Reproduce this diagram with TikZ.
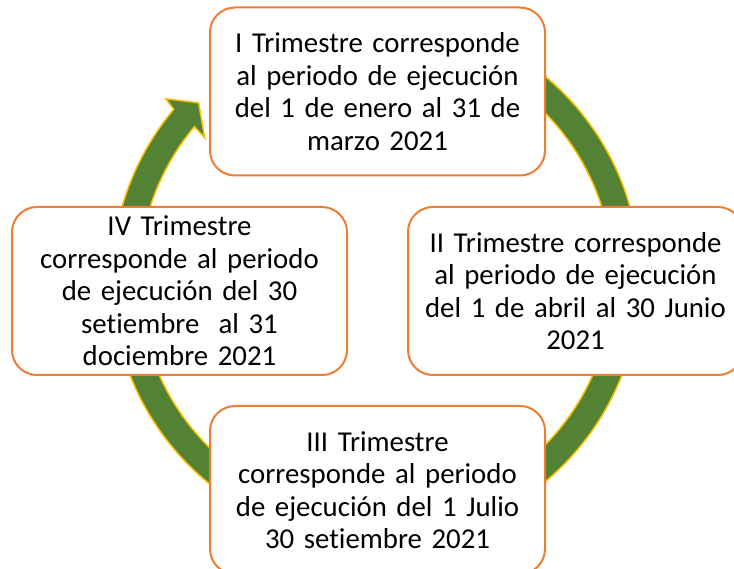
\documentclass[tikz,border=0pt]{standalone}
\usepackage{fontspec}
\setmainfont[Ligatures=NoCommon]{Carlito}
\definecolor{ringgreen}{RGB}{84,130,53}
\definecolor{ringedge}{RGB}{255,192,0}
\definecolor{boxedge}{RGB}{237,125,49}

\begin{document}
\begin{tikzpicture}[x=1pt,y=1pt,
    trimbox/.style={draw=boxedge, line width=2pt, fill=white, rounded corners=25pt,
      minimum width=335pt, minimum height=168pt, text width=330pt, align=center,
      font=\fontsize{28.8}{32.5}\selectfont, inner sep=0pt}]
  \clip (0,0) rectangle (734,-569);
  % anillo con flecha
  \begin{scope}[shift={(376,-279)}]
    \filldraw[fill=ringgreen, draw=ringedge, line width=1.5pt, line join=miter]
      (100:264) arc[start angle=100, end angle=-220, radius=264]
      -- (139.4:277) -- (135.2:250) -- (140.5:222) -- (140:237)
      arc[start angle=140, end angle=460, radius=237] -- cycle;
  \end{scope}
  % trimestres
  \node[trimbox] (t1) at (377.5,-91.5) {I Trimestre corresponde\\ al periodo de ejecución\\ del 1 de enero al 31 de\\ marzo 2021};
  \node[trimbox] (t2) at (575.5,-291) {II Trimestre corresponde\\ al periodo de ejecución\\ del 1 de abril al 30 Junio\\ 2021};
  \node[trimbox] (t3) at (377.5,-490) {III Trimestre\\ corresponde al periodo\\ de ejecución del 1 Julio\\ 30 setiembre 2021};
  \node[trimbox] (t4) at (179.5,-291) {IV Trimestre\\ corresponde al periodo\\ de ejecución del 30\\ setiembre\ \ al 31\\ dociembre 2021};
\end{tikzpicture}
\end{document}
